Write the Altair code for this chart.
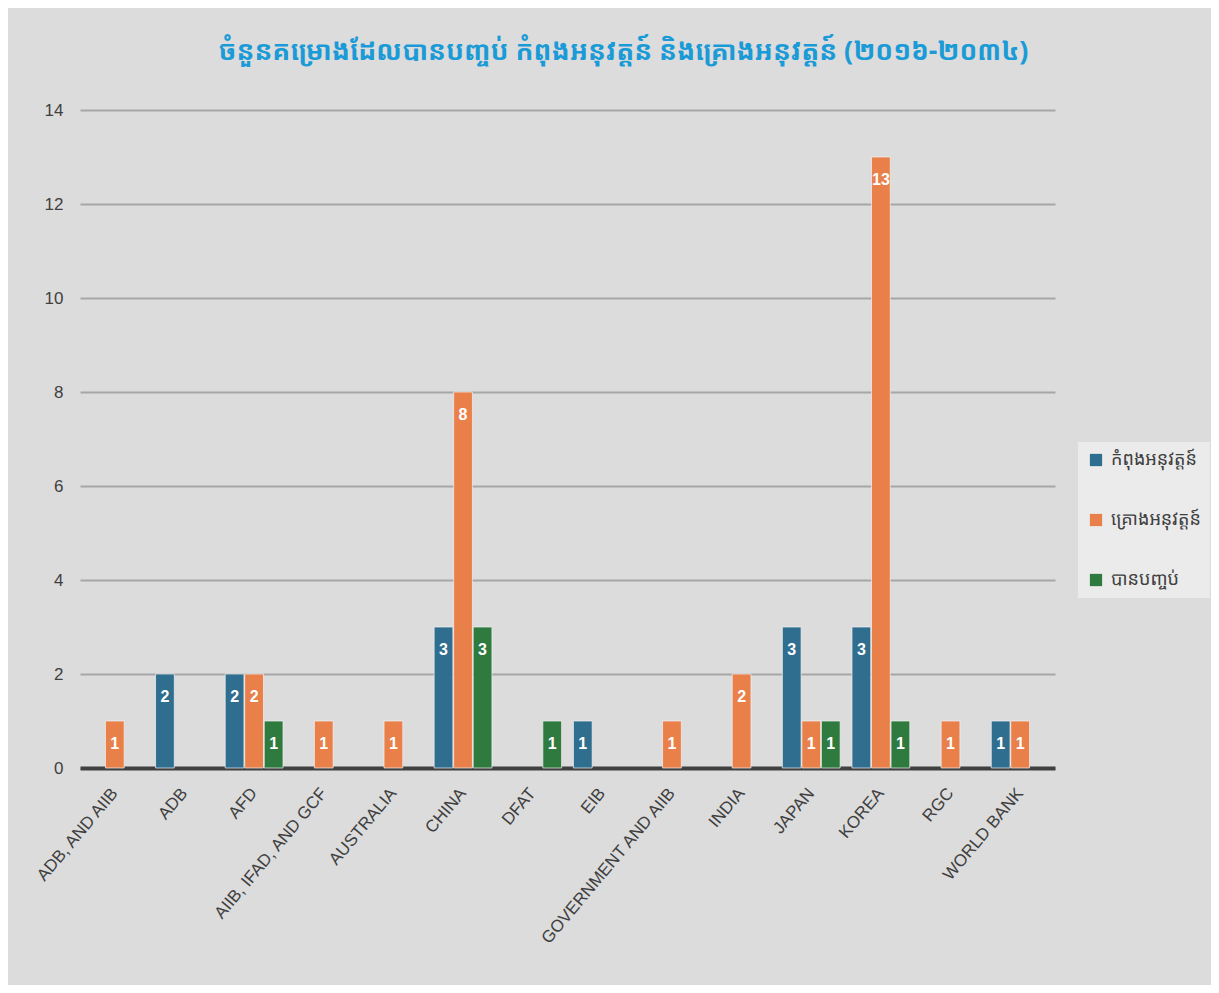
import altair as alt
import pandas as pd

categories = ["ADB, AND AIIB", "ADB", "AFD", "AIIB, IFAD, AND GCF", "AUSTRALIA", "CHINA",
              "DFAT", "EIB", "GOVERNMENT AND AIIB", "INDIA", "JAPAN", "KOREA", "RGC", "WORLD BANK"]
series = ["កំពុងអនុវត្តន៍", "គ្រោងអនុវត្តន៍", "បានបញ្ចប់"]
ongoing   = [0, 2, 2, 0, 0, 3, 0, 1, 0, 0, 3, 3, 0, 1]
planned   = [1, 0, 2, 1, 1, 8, 0, 0, 1, 2, 1, 13, 1, 1]
completed = [0, 0, 1, 0, 0, 3, 1, 0, 0, 0, 1, 1, 0, 0]
colors = ["#2f6e8f", "#e9804a", "#2f7a3e"]
title_text = "ចំនួនគម្រោងដែលបានបញ្ចប់ កំពុងអនុវត្តន៍ និងគ្រោងអនុវត្តន៍ (២០១៦-២០៣៤)"

rows = []
for vals, s in zip([ongoing, planned, completed], series):
    for c, v in zip(categories, vals):
        rows.append({"cat": c, "series": s, "value": v})
df = pd.DataFrame(rows)

x_enc = alt.X("cat:N", sort=categories, title=None,
              scale=alt.Scale(domain=categories, paddingInner=0.17, paddingOuter=0.085),
              axis=alt.Axis(labelAngle=-50, labelFontSize=17, labelColor="#404040",
                            labelFont="Liberation Sans", domainColor="#404040", domainWidth=4,
                            ticks=False, labelPadding=22, labelLimit=0, grid=False))
xo_enc = alt.XOffset("series:N", sort=series,
                     scale=alt.Scale(domain=series, paddingInner=0.04))

base = alt.Chart(df).transform_filter("datum.value > 0")

bars = base.mark_bar(stroke="#f2f2f2", strokeWidth=1, strokeOpacity=0.7).encode(
    x=x_enc,
    xOffset=xo_enc,
    y=alt.Y("value:Q", title=None,
            scale=alt.Scale(domain=[0, 14]),
            axis=alt.Axis(values=[0, 2, 4, 6, 8, 10, 12, 14], labelFontSize=17,
                          labelColor="#404040", labelFont="Liberation Sans",
                          domain=False, ticks=False, labelPadding=17,
                          gridColor="#a6a6a6", gridWidth=2)),
    color=alt.Color("series:N", sort=series,
                    scale=alt.Scale(domain=series, range=colors),
                    legend=alt.Legend(title=None, orient="none", legendX=998, legendY=332,
                                      symbolType="square", symbolSize=150, symbolStrokeWidth=0,
                                      labelFontSize=18, labelColor="#404040", labelOffset=6,
                                      rowPadding=42, padding=9, fillColor="#ebebeb",
                                      labelFont="Noto Sans Khmer, Noto Sans, DejaVu Sans")),
)

labels = base.mark_text(
    color="white", fontWeight="bold", fontSize=16, baseline="top", dy=15,
    font="Liberation Sans Narrow, Liberation Sans"
).encode(
    x=alt.X("cat:N", sort=categories),
    xOffset=alt.XOffset("series:N", sort=series),
    y="value:Q",
    text="value:Q",
)

chart = (bars + labels).properties(
    width=975, height=658,
    title=alt.TitleParams(title_text, fontSize=26.5, fontWeight="bold", color="#1a9bd7",
                          font="Noto Sans Khmer, Noto Sans, DejaVu Sans", offset=36, dx=56),
    autosize=alt.AutoSizeParams(type="none"),
    padding={"left": 72, "top": 102, "right": 156, "bottom": 217},
    background="#dcdcdc",
).configure_view(stroke=None)

chart.save("out.html", embed_options={"renderer": "svg", "actions": False})
